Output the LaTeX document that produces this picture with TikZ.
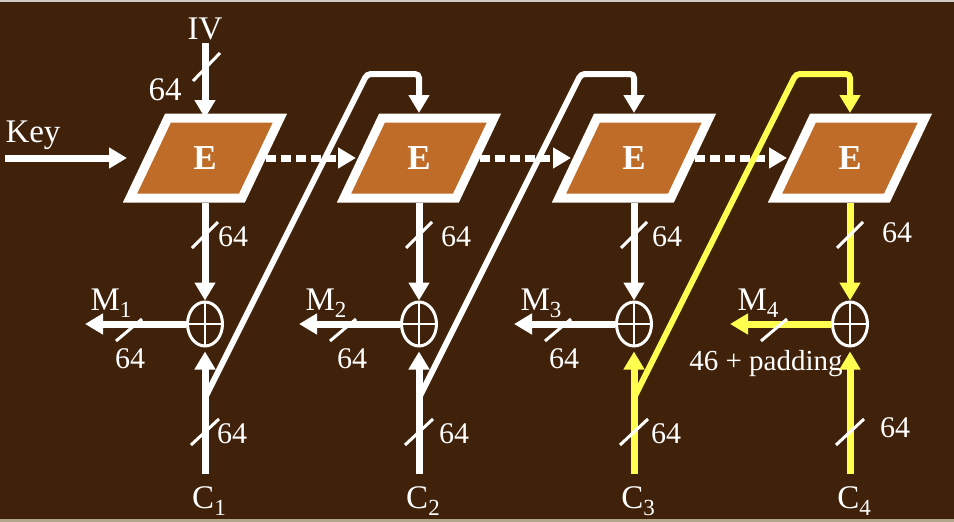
\documentclass[tikz,border=0pt]{standalone}
\usepackage{fontspec}
\setmainfont{Liberation Serif}
\usepackage{tikz}
\usetikzlibrary{arrows.meta,backgrounds,shapes.geometric}
\definecolor{slidebrown}{HTML}{40220B}
\definecolor{blockorange}{HTML}{BF6C29}
\definecolor{pathyellow}{HTML}{FFFF50}
\definecolor{edgegray}{HTML}{CFCAC4}
\definecolor{edgetan}{HTML}{B1A68C}
\newcommand{\lowidx}[1]{\raisebox{-7pt}{\fontsize{23}{24}\selectfont #1}}

\begin{document}
\begin{tikzpicture}[
  x=1pt, y=-1pt,
  font=\fontsize{33}{38}\selectfont,
  text=white,
  >={Triangle[length=18pt,width=20pt]},
  block/.style={minimum width=112pt, minimum height=80pt, inner sep=0pt, outer sep=0pt,
    font=\fontsize{35}{38}\selectfont\bfseries},
  frame/.style={draw=white, fill=blockorange, line width=9pt, line join=miter},
  xor/.style={ellipse, draw=white, line width=3pt, minimum width=35pt, minimum height=44pt,
    inner sep=0pt,
    path picture={\draw[white, line width=2.5pt]
      (path picture bounding box.north) -- (path picture bounding box.south)
      (path picture bounding box.west) -- (path picture bounding box.east);}},
  flow/.style={->, line width=7pt, draw=white},
  feed/.style={->, line width=6pt, draw=white, rounded corners=4pt},
  dotflow/.style={->, line width=7pt, draw=white, dash pattern=on 10pt off 5pt},
  hl/.style={draw=pathyellow},
  tick/.style={draw=white, line width=3pt},
  bits/.style={font=\fontsize{30}{34}\selectfont, anchor=base}
]
  \useasboundingbox (0,0) rectangle (954,522);

  % inputs
  \node[anchor=base] (iv) at (205,39) {IV};
  \node[anchor=base] (ivbits) at (165,100) {64};
  \node[anchor=base] (key) at (33,142) {Key};
  \coordinate (keyin) at (5,158);

  % cipher blocks
  \node[block] (e1) at (205,158) {E};
  \node[block] (e2) at (419,158) {E};
  \node[block] (e3) at (634,158) {E};
  \node[block] (e4) at (850,158) {E};

  % xor gates
  \node[xor] (x1) at (205,324) {};
  \node[xor] (x2) at (419,324) {};
  \node[xor] (x3) at (634,324) {};
  \node[xor] (x4) at (850,324) {};

  % plaintext outputs
  \coordinate (m1out) at (85,324);
  \coordinate (m2out) at (299,324);
  \coordinate (m3out) at (514,324);
  \coordinate (m4out) at (730,324);
  \node[anchor=base] (m1) at (111,310) {M\lowidx{1}};
  \node[anchor=base] (m2) at (326,310) {M\lowidx{2}};
  \node[anchor=base] (m3) at (541,310) {M\lowidx{3}};
  \node[anchor=base] (m4) at (758,310) {M\lowidx{4}};
  \node[bits] (mbits1) at (130,368) {64};
  \node[bits] (mbits2) at (352,368) {64};
  \node[bits] (mbits3) at (564,368) {64};
  \node[bits, font=\fontsize{29}{32}\selectfont] (mbits4) at (766,370) {46 + padding};

  % ciphertext inputs
  \coordinate (c1in) at (205,474);
  \coordinate (c2in) at (419,474);
  \coordinate (c3in) at (634,474);
  \coordinate (c4in) at (850,474);
  \node[anchor=base] (c1) at (209,508) {C\lowidx{1}};
  \node[anchor=base] (c2) at (423,508) {C\lowidx{2}};
  \node[anchor=base] (c3) at (638,508) {C\lowidx{3}};
  \node[anchor=base] (c4) at (854,508) {C\lowidx{4}};
  \node[bits] (cbits1) at (232,443) {64};
  \node[bits] (cbits2) at (454,443) {64};
  \node[bits] (cbits3) at (666,443) {64};
  \node[bits] (cbits4) at (895,437) {64};
  \node[bits] (ebits1) at (233,246) {64};
  \node[bits] (ebits2) at (456,246) {64};
  \node[bits] (ebits3) at (667,246) {64};
  \node[bits] (ebits4) at (897,242) {64};

  % feedback turns
  \coordinate (j1) at (205,398);
  \coordinate (j2) at (419,398);
  \coordinate (j3) at (634,398);
  \coordinate (t1) at (367,74);
  \coordinate (t2) at (581,74);
  \coordinate (t3) at (796,74);
  \coordinate (u1) at (419,74);
  \coordinate (u2) at (634,74);
  \coordinate (u3) at (850,74);

  \draw[flow] (iv.south) -- (e1.north);
  \draw[flow, shorten >=22pt] (keyin) -- (e1.west);
  \draw[dotflow, shorten <=5pt, shorten >=7pt] (e1.east) -- (e2.west);
  \draw[dotflow, shorten <=5pt, shorten >=7pt] (e2.east) -- (e3.west);
  \draw[dotflow, shorten <=5pt, shorten >=7pt] (e3.east) -- (e4.west);

  \draw[flow, shorten <=5pt] (e1.south) -- (x1.north);
  \draw[flow, shorten <=5pt] (e2.south) -- (x2.north);
  \draw[flow, shorten <=5pt] (e3.south) -- (x3.north);
  \draw[flow, hl, shorten <=5pt] (e4.south) -- (x4.north);

  \draw[flow] (x1.west) -- (m1out);
  \draw[flow] (x2.west) -- (m2out);
  \draw[flow] (x3.west) -- (m3out);
  \draw[flow, hl] (x4.west) -- (m4out);

  \draw[flow, shorten >=4pt] (c1in) -- (x1.south);
  \draw[flow, shorten >=4pt] (c2in) -- (x2.south);
  \draw[flow, hl, shorten >=4pt] (c3in) -- (x3.south);
  \draw[flow, hl, shorten >=4pt] (c4in) -- (x4.south);

  \draw[feed, shorten >=5pt] (j1) -- (t1) -- (u1) -- (e2.north);
  \draw[feed, shorten >=5pt] (j2) -- (t2) -- (u2) -- (e3.north);
  \draw[feed, hl, shorten >=5pt] (j3) -- (t3) -- (u3) -- (e4.north);

  % bus width ticks
  \draw[tick] (193,81) -- (220,53);
  \draw[tick] (192,248) -- (218,222);
  \draw[tick] (406,248) -- (432,222);
  \draw[tick] (621,248) -- (647,222);
  \draw[tick] (837,248) -- (863,222);
  \draw[tick] (116,341) -- (142,319);
  \draw[tick] (330,341) -- (356,319);
  \draw[tick] (545,341) -- (571,319);
  \draw[tick] (761,341) -- (787,319);
  \draw[tick] (191,445) -- (219,419);
  \draw[tick] (405,445) -- (433,419);
  \draw[tick] (620,445) -- (648,419);
  \draw[tick] (836,445) -- (864,419);

  \begin{scope}[on background layer]
    \fill[slidebrown] (0,0) rectangle (954,522);
    \fill[edgegray] (0,0) rectangle (954,1.5);
    \fill[edgetan] (0,519) rectangle (954,522);
    \draw[frame] ([xshift=19pt]e1.north west) -- ([xshift=19pt]e1.north east)
      -- ([xshift=-19pt]e1.south east) -- ([xshift=-19pt]e1.south west) -- cycle;
    \draw[frame] ([xshift=19pt]e2.north west) -- ([xshift=19pt]e2.north east)
      -- ([xshift=-19pt]e2.south east) -- ([xshift=-19pt]e2.south west) -- cycle;
    \draw[frame] ([xshift=19pt]e3.north west) -- ([xshift=19pt]e3.north east)
      -- ([xshift=-19pt]e3.south east) -- ([xshift=-19pt]e3.south west) -- cycle;
    \draw[frame] ([xshift=19pt]e4.north west) -- ([xshift=19pt]e4.north east)
      -- ([xshift=-19pt]e4.south east) -- ([xshift=-19pt]e4.south west) -- cycle;
  \end{scope}
\end{tikzpicture}
\end{document}
